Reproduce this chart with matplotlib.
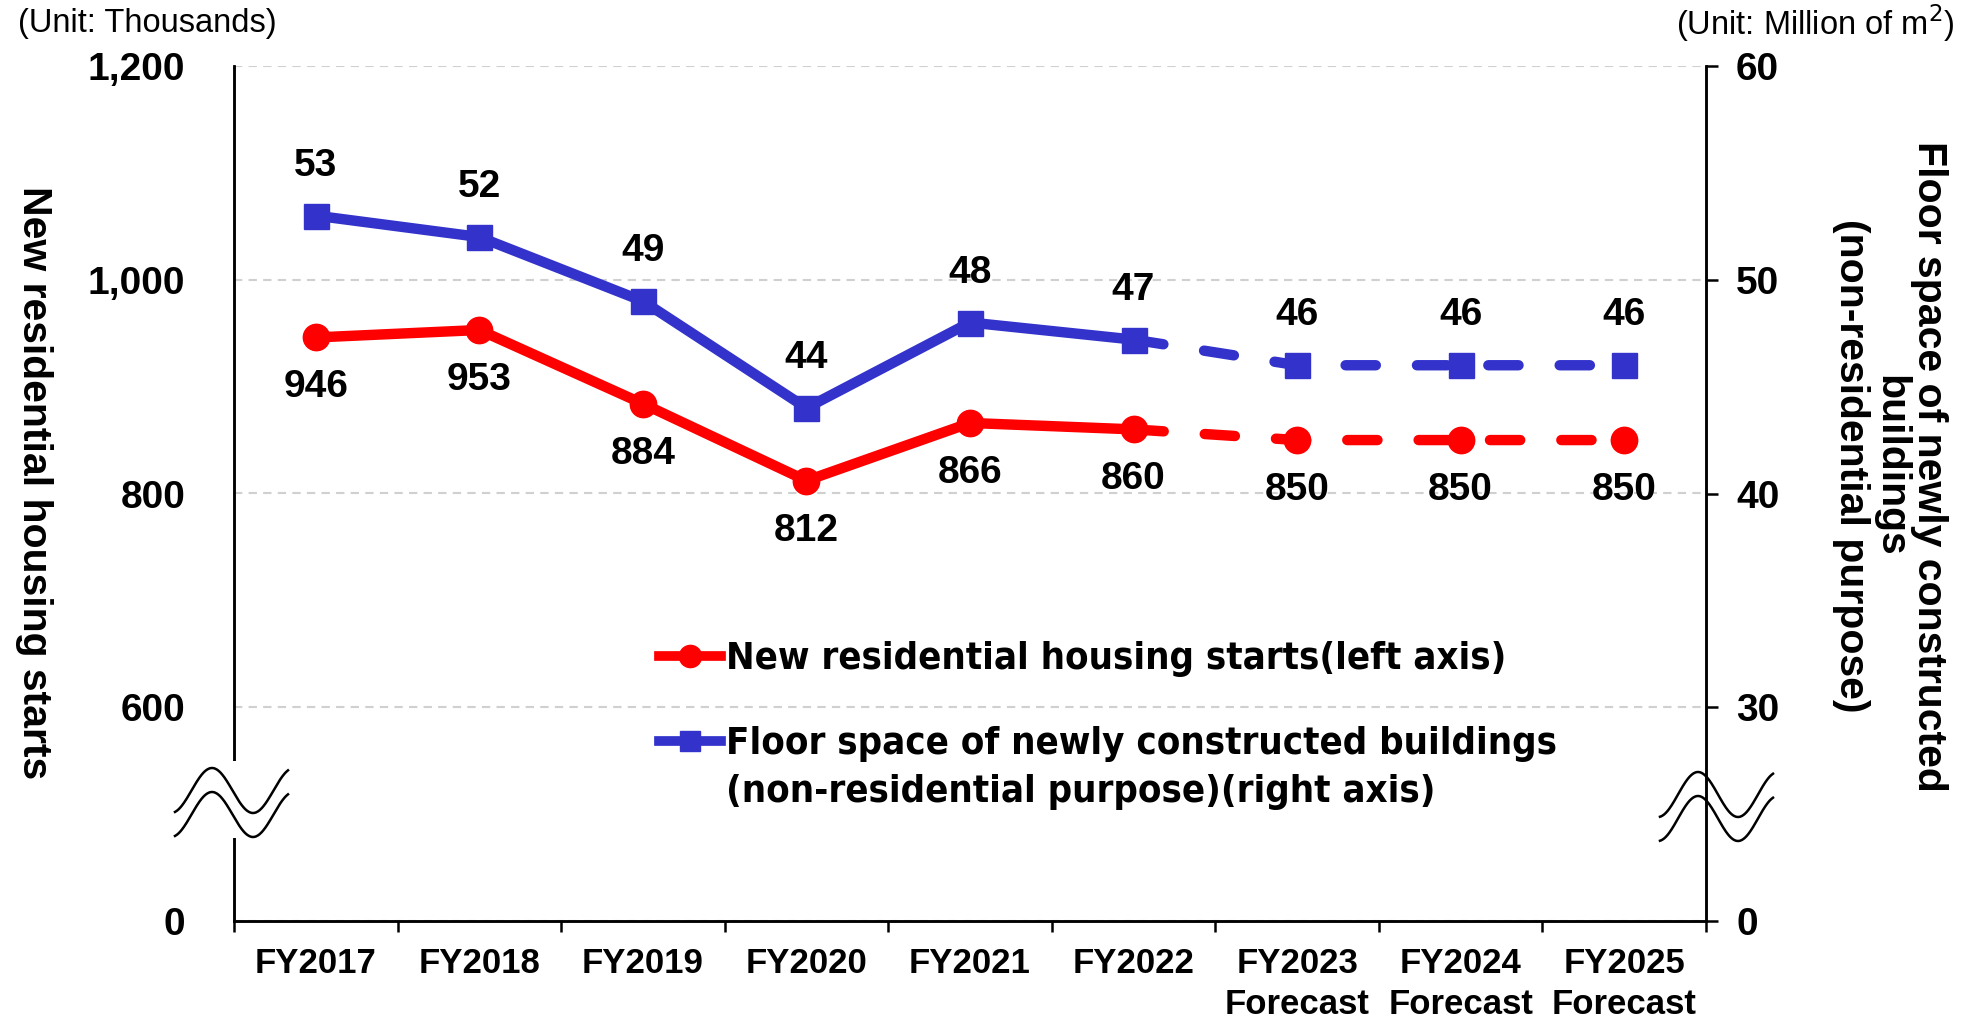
import matplotlib
matplotlib.use('Agg')
import matplotlib.pyplot as plt
import numpy as np
from matplotlib import font_manager
from matplotlib.font_manager import FontProperties
from matplotlib.lines import Line2D
from matplotlib.patches import Rectangle

# values
years = ['FY2017', 'FY2018', 'FY2019', 'FY2020', 'FY2021', 'FY2022',
         'FY2023\nForecast', 'FY2024\nForecast', 'FY2025\nForecast']
housing = [946, 953, 884, 812, 866, 860, 850, 850, 850]               # thousands
floor_space = [53.0, 52.0, 49.0, 44.0, 48.0, 47.2, 46.0, 46.0, 46.0]  # million m2
n_actual = 6   # FY2017..FY2022 are actuals, rest forecast

left_ticks = [400, 600, 800, 1000, 1200]
left_labels = ['0', '600', '800', '1,000', '1,200']
right_ticks = [20, 30, 40, 50, 60]
right_labels = ['0', '30', '40', '50', '60']

RED = '#ff0000'
BLUE = '#3333cc'
W, H = 1980, 1018

plt.rcParams['font.family'] = ['Liberation Sans', 'DejaVu Sans']


def find_narrow_bold():
    """look for a condensed bold face, fall back to Liberation Sans bold"""
    cands = []
    for f in font_manager.fontManager.ttflist:
        nm = f.name.lower()
        st = str(f.stretch).lower()
        narrow = ('narrow' in nm or 'condensed' in nm or 'condensed' in st
                  or 'narrow' in f.fname.lower())
        if not narrow:
            continue
        w = f.weight if isinstance(f.weight, int) else 700
        if w < 600:
            continue
        rank = 0 if 'liberation' in nm else (1 if 'dejavu' in nm else 2)
        if 'semi' in st or 'semi' in f.fname.lower():
            rank += 5
        if 'extra' in st or 'extra' in f.fname.lower():
            rank += 3
        if 'italic' in f.style or 'oblique' in f.style:
            continue
        cands.append((rank, f.fname))
    if cands:
        cands.sort()
        return FontProperties(fname=cands[0][1])
    return FontProperties(family='Liberation Sans', weight='bold')


fig = plt.figure(figsize=(W / 100, H / 100), dpi=100)
ax = fig.add_axes([234 / W, 1 - 921 / H, (1706 - 234) / W, (921 - 66) / H])
ax2 = ax.twinx()

x = np.arange(len(years))
lw = 7.5
dash = (2.9, 3.95)


def draw_series(axis, vals, color, marker, ms):
    vals = np.asarray(vals)
    axis.plot(x[:n_actual], vals[:n_actual], color=color, lw=lw,
              solid_capstyle='round', zorder=3)
    axis.plot(x[n_actual - 1:], vals[n_actual - 1:], color=color, lw=lw,
              dashes=dash, dash_capstyle='round', zorder=3)
    axis.plot(x, vals, ls='none', marker=marker, ms=ms, color=color,
              mec=color, zorder=4)


draw_series(ax, housing, RED, 'o', 19)
draw_series(ax2, floor_space, BLUE, 's', 18)

for xi, v in zip(x, housing):
    ax.annotate(f'{v:,}', (xi, v), xytext=(0, -36), textcoords='offset points',
                ha='center', va='center', fontsize=28, fontweight='bold')
for xi, v in zip(x, floor_space):
    ax2.annotate(f'{v:.0f}', (xi, v), xytext=(0, 36), textcoords='offset points',
                 ha='center', va='center', fontsize=28, fontweight='bold')

# axes ranges / ticks
ax.set_xlim(-0.5, len(years) - 0.5)
ax.set_ylim(400, 1200)
ax2.set_ylim(20, 60)

ax.set_xticks(x)
ax.set_xticklabels(years, fontsize=25, fontweight='bold', linespacing=1.3)
ax.set_xticks(np.arange(-0.5, len(years)), minor=True)
ax.tick_params(axis='x', which='major', length=0, pad=19)
ax.tick_params(axis='x', which='minor', length=8, width=1.8, direction='out')

ax.set_yticks(left_ticks)
ax.set_yticklabels(left_labels, fontsize=28, fontweight='bold')
ax.tick_params(axis='y', length=0, pad=35)

ax2.set_yticks(right_ticks)
ax2.set_yticklabels(right_labels, fontsize=28, fontweight='bold')
ax2.tick_params(axis='y', length=8.6, width=1.8, pad=13, direction='out')

ax.yaxis.grid(True, color='#d0d0d0', ls=(0, (4, 3)), lw=1.5)
ax.set_axisbelow(True)

for a in (ax, ax2):
    a.spines['top'].set_visible(False)
    for s in ('left', 'right', 'bottom'):
        a.spines[s].set_linewidth(1.8)
        a.spines[s].set_color('black')

ax.set_ylabel('New residential housing starts', fontsize=29.5, fontweight='bold',
              rotation=270, va='center')
ax2.set_ylabel('Floor space of newly constructed\nbuildings\n(non-residential purpose)',
               fontsize=29.5, fontweight='bold', rotation=270, va='center',
               linespacing=1.05)
ax.yaxis.set_label_coords(34 / W, 1 - 483 / H, transform=fig.transFigure)
ax2.yaxis.set_label_coords(1890 / W, 1 - 466 / H, transform=fig.transFigure)

fig.text(18 / W, 1 - 23 / H, '(Unit: Thousands)', fontsize=23.5, va='center', ha='left')
fig.text(1955 / W, 1 - 23 / H, '(Unit: Million of m$^2$)', fontsize=23.5,
         va='center', ha='right')

# legend (the second entry wraps onto a second line under its text)
legfont = find_narrow_bold()
legfont.set_size(30)
handles = [Line2D([], [], color=RED, lw=7, marker='o', ms=16),
           Line2D([], [], color=BLUE, lw=7, marker='s', ms=15)]
labels = ['New residential housing starts(left axis)',
          'Floor space of newly constructed buildings']
extra_line = '(non-residential purpose)(right axis)'

# size the legend font so the first label spans about the reference width
probe = fig.text(0, 0, labels[0], fontproperties=legfont)
fig.canvas.draw()
wpx = probe.get_window_extent().width
probe.remove()
legfont.set_size(30 * 780 / wpx)
fs_px = legfont.get_size() * 100 / 72

leg = ax2.legend(handles, labels, loc='center left',
                 bbox_to_anchor=(640 / W, 1 - (658 + 745) / 2 / H),
                 bbox_transform=fig.transFigure,
                 frameon=False, handlelength=62 / fs_px, handletextpad=5 / fs_px,
                 labelspacing=(87 - fs_px) / fs_px, borderpad=0, prop=legfont)
fig.canvas.draw()
t2 = leg.get_texts()[1].get_window_extent()
fig.text(t2.x0 / W, (t2.y0 + t2.y1) / 2 / H - 48 / H, extra_line,
         fontproperties=legfont, va='center', ha='left')


# axis break marks
def axis_break(xc, yc, period, gap_top, gap_bot, x0, x1):
    fig.patches.append(Rectangle(((xc - 6) / W, 1 - gap_bot / H), 12 / W,
                                 (gap_bot - gap_top) / H, transform=fig.transFigure,
                                 facecolor='white', edgecolor='none', zorder=5))
    xs = np.linspace(x0, x1, 200)
    for off in (0, 24):
        ys = yc + off + 22.5 * np.sin(2 * np.pi * (xs - xc) / period)
        fig.lines.append(Line2D(xs / W, 1 - ys / H, transform=fig.transFigure,
                                color='black', lw=1.8, zorder=6))


axis_break(232.5, 790.5, 82, 761, 838, 175, 288)
axis_break(1718, 794.5, 80, 764, 842, 1660, 1773)

fig.savefig('out.png', dpi=100)
